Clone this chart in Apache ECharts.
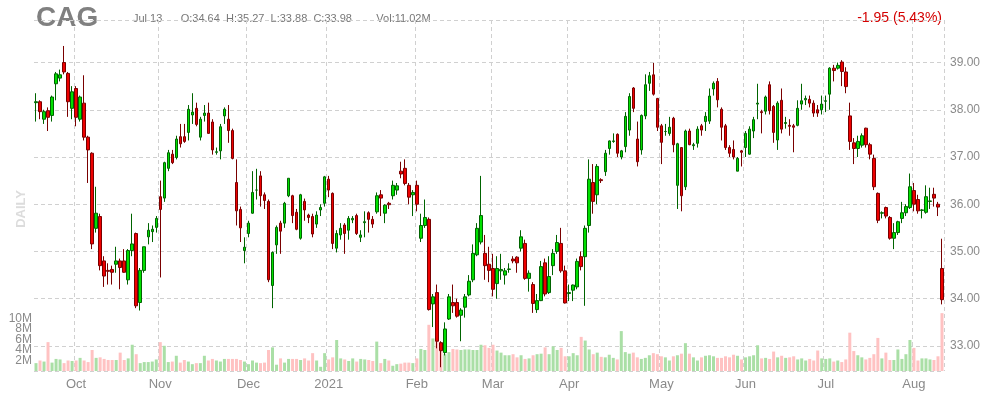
<!DOCTYPE html>
<html><head><meta charset="utf-8">
<script src="https://cdn.jsdelivr.net/npm/echarts@6/dist/echarts.min.js"></script>
<style>html,body{margin:0;padding:0;background:#fff}#c{width:990px;height:400px}</style>
</head><body><div id="c"></div>
<script>
// [open, close, low, high]
const ohlc = [
[38.15,38.17,37.75,38.35],[38.17,37.96,37.8,38.2],[37.8,37.96,37.7,38.0],[37.98,37.84,37.55,38.05],[37.88,38.27,37.75,38.3],
[38.55,38.76,38.2,38.8],[38.67,38.74,38.6,38.85],[39.0,38.8,38.75,39.35],[38.77,38.17,37.85,38.8],[38.03,38.38,37.8,38.5],
[38.45,37.84,37.65,38.5],[37.8,38.27,37.75,38.3],[38.14,37.42,37.35,38.73],[37.42,37.15,36.45,37.45],[37.08,35.16,35.05,37.1],
[35.49,35.81,35.4,36.37],[35.74,34.7,34.6,35.8],[34.8,34.48,34.25,34.9],[34.6,34.58,34.3,34.75],[34.62,34.56,34.3,34.7],
[34.73,34.8,34.55,35.1],[34.8,34.66,34.2,34.85],[34.8,34.56,34.55,35.05],[34.4,35.02,34.3,35.05],[35.02,35.16,34.9,35.8],
[35.38,33.85,33.8,35.4],[33.92,34.6,33.75,34.65],[34.6,35.1,34.55,35.1],[35.31,35.45,35.15,35.6],[35.42,35.47,35.2,35.55],
[35.51,35.7,35.4,35.75],[36.16,35.89,34.45,36.5],[36.13,36.88,36.05,36.9],[36.76,37.09,36.7,37.15],[37.06,36.88,36.85,37.15],
[36.99,37.38,36.95,37.45],[37.43,37.28,37.2,37.7],[37.43,37.33,37.3,37.7],[37.52,38.01,37.35,38.1],[37.89,37.95,37.7,38.35],
[38.03,37.69,37.65,38.15],[37.42,37.8,37.35,37.85],[37.88,37.93,37.75,38.1],[37.93,37.5,37.5,38.15],[37.74,37.15,37.05,37.8],
[37.1,37.11,37.05,37.2],[37.13,37.64,36.95,37.7],[37.87,38.01,37.7,38.05],[37.8,37.56,37.3,38.1],[37.56,36.97,36.95,37.6],
[36.46,35.86,35.55,36.95],[35.89,35.5,35.2,35.95],[35.02,35.09,34.75,35.3],[35.38,35.6,35.3,35.65],[35.81,36.25,35.8,36.7],
[36.3,36.3,36.1,36.75],[36.6,36.18,35.95,36.7],[36.2,36.08,35.9,36.25],[36.06,34.4,34.35,36.1],[34.28,34.98,33.8,35.0],
[35.14,35.51,34.95,35.55],[35.6,35.43,34.95,35.65],[35.6,36.02,35.5,36.05],[36.18,36.55,36.15,36.55],[36.18,35.76,35.6,36.2],
[35.83,35.47,35.45,35.9],[35.28,36.2,35.25,36.22],[36.06,35.88,35.65,36.12],[35.77,35.72,35.6,35.8],[35.74,35.37,35.3,35.8],
[35.58,35.77,35.5,35.85],[35.88,35.93,35.75,36.0],[36.02,36.58,35.95,36.6],[36.53,36.3,36.15,36.6],[36.23,35.17,35.05,36.25],
[35.07,35.38,34.98,35.45],[35.35,35.49,35.25,35.6],[35.56,35.38,34.95,35.6],[35.45,35.7,35.25,35.75],[35.67,35.7,35.6,35.75],
[35.76,35.38,35.35,35.8],[35.3,35.35,35.2,35.45],[35.61,35.63,35.3,35.85],[35.82,35.68,35.4,35.85],[35.68,35.58,35.5,35.75],
[35.84,36.18,35.8,36.25],[36.2,36.13,35.75,36.3],[35.81,35.98,35.6,36.0],[36.02,35.99,35.9,36.05],[36.18,36.4,36.1,36.5],
[36.3,36.39,36.2,36.45],[36.7,36.64,36.55,36.9],[36.76,36.44,36.4,36.95],[36.4,36.15,36.0,36.45],[36.2,36.25,35.75,36.3],
[36.4,36.0,35.85,36.5],[35.28,35.55,35.2,35.8],[35.55,35.72,35.5,36.1],[35.68,33.77,33.75,35.72],[33.89,34.04,33.4,34.1],
[34.13,33.1,32.95,34.3],[33.07,32.9,32.55,33.1],[32.86,33.36,32.8,33.5],[33.57,34.04,33.55,34.1],[33.92,33.85,33.7,34.3],
[33.92,33.63,33.6,34.0],[33.65,33.76,33.1,33.8],[33.82,34.04,33.6,34.1],[34.08,34.37,34.05,34.5],[34.4,34.96,34.35,35.15],
[34.93,35.49,34.9,35.6],[35.2,35.76,35.15,36.6],[34.96,34.7,34.4,35.35],[34.73,34.6,34.35,35.1],[34.64,34.2,34.05,34.95],
[34.32,34.64,34.0,34.9],[34.59,34.62,34.4,34.95],[34.5,34.59,34.3,34.65],[34.62,34.63,34.55,34.75],[34.84,34.8,34.75,34.9],
[34.88,34.76,34.55,34.9],[35.07,35.31,35.0,35.45],[35.17,34.43,34.4,35.25],[34.43,34.54,34.15,34.6],[34.3,33.9,33.7,34.35],
[33.77,33.96,33.7,34.1],[33.96,34.68,33.95,34.8],[34.76,34.1,34.05,34.85],[34.13,34.47,34.1,34.9],[34.7,34.96,34.5,35.05],
[35.0,35.19,34.95,35.35],[35.17,34.59,34.55,35.5],[34.59,33.91,33.9,34.7],[34.11,34.13,33.95,34.3],[34.18,34.29,33.95,34.3],
[34.25,34.79,34.2,34.85],[34.89,34.68,34.6,35.0],[34.89,35.49,33.85,35.55],[35.55,36.53,35.4,36.95],[36.46,36.06,35.8,36.85],
[36.2,36.8,36.0,36.85],[36.52,36.5,36.45,36.55],[36.69,37.08,36.6,37.15],[37.18,37.34,37.05,37.35],[37.33,37.34,37.3,37.5],
[37.48,37.08,37.0,37.5],[37.0,37.13,36.95,37.15],[37.22,37.86,37.1,37.95],[37.57,38.28,37.45,38.35],[38.46,38.03,37.95,38.48],
[37.38,36.9,36.8,37.75],[37.15,37.88,37.05,37.9],[37.87,38.53,37.8,38.75],[38.56,38.72,38.4,38.8],[38.74,38.33,38.3,38.99],
[38.24,37.63,37.55,38.25],[37.66,37.31,36.85,37.7],[37.54,37.54,37.45,37.7],[37.5,37.63,37.45,37.85],[37.82,37.26,37.1,37.85],
[36.4,37.28,35.9,37.3],[37.2,36.18,35.85,37.2],[36.37,37.55,36.3,37.58],[37.55,37.26,37.25,37.6],[37.24,37.26,37.15,37.3],
[37.29,37.59,37.2,37.65],[37.66,37.57,37.45,37.7],[37.75,37.86,37.55,37.95],[37.76,38.29,37.7,38.45],[38.44,38.56,38.3,38.6],
[38.6,38.21,38.05,38.67],[38.01,37.63,37.35,38.05],[37.66,37.2,37.15,37.7],[37.2,37.08,37.0,37.25],[37.16,37.0,36.95,37.35],
[36.7,36.97,36.7,37.0],[37.13,37.1,36.8,37.15],[37.2,37.5,37.0,37.55],[37.06,37.59,37.05,37.65],[37.55,37.79,37.4,37.85],
[38.12,38.14,37.8,38.55],[37.96,37.94,37.5,38.0],[37.97,38.27,37.9,38.3],[38.53,37.98,37.9,38.6],[38.07,37.52,37.3,38.1],
[37.36,38.14,37.15,38.18],[38.2,37.59,37.5,38.45],[37.71,37.73,37.6,37.85],[37.67,37.65,37.45,37.8],[37.66,37.63,37.1,37.7],
[37.67,38.03,37.65,38.2],[38.12,38.19,38.0,38.55],[38.21,38.24,38.1,38.3],[38.22,38.14,38.05,38.3],[38.14,37.93,37.85,38.2],
[38.0,37.93,37.85,38.1],[38.0,38.12,37.9,38.3],[38.18,38.19,37.95,38.3],[38.33,38.88,38.0,38.9],[38.88,38.83,38.6,38.95],
[38.88,38.94,38.85,39.0],[39.01,38.81,38.5,39.05],[38.8,38.49,38.35,38.9],[37.87,37.33,37.15,38.15],[37.3,37.18,36.85,37.4],
[37.18,37.33,37.0,37.45],[37.25,37.45,37.2,37.5],[37.61,37.26,37.2,37.62],[37.26,37.06,36.95,37.3],[36.97,36.37,36.3,37.05],
[36.23,35.66,35.6,36.25],[35.81,35.82,35.7,35.85],[35.93,35.75,35.7,35.95],[35.72,35.28,35.25,35.75],[35.28,35.4,35.05,35.6],
[35.4,35.63,35.35,35.65],[35.7,35.82,35.6,36.05],[35.82,35.95,35.75,36.0],[35.93,36.37,35.9,36.65],[36.29,36.0,35.85,36.45],
[36.1,35.86,35.8,36.2],[35.87,35.88,35.7,35.9],[35.83,36.16,35.8,36.4],[36.06,36.07,35.9,36.35],[36.21,36.13,35.95,36.35],
[36.0,35.94,35.75,36.05],[34.64,33.98,33.88,35.27]
];
const volumeM = [
1.5,2.0,1.8,5.5,1.6,2.3,2.2,1.5,2.0,1.9, 2.0,2.5,2.0,1.7,4.0,2.5,2.6,2.3,2.1,2.1,
2.1,3.5,2.1,2.4,5.0,3.2,1.5,1.7,1.7,1.8, 2.2,5.5,4.8,1.7,1.8,2.9,1.6,2.1,1.8,1.3,
1.5,1.5,2.9,2.0,2.3,2.0,1.8,2.3,2.3,2.3, 2.3,2.1,1.8,1.3,2.0,1.6,1.5,1.6,4.0,4.5,
1.2,2.4,1.6,2.3,2.3,2.3,2.1,2.4,2.0,3.4, 2.0,0.8,3.4,2.2,2.6,5.9,2.4,2.2,1.9,2.4,
1.8,2.3,2.2,2.1,1.9,5.6,1.5,2.3,2.0,1.0, 1.3,1.4,1.6,1.6,1.5,2.4,4.2,4.0,8.8,6.2,
5.6,4.0,3.2,3.6,4.2,4.1,4.0,4.1,4.1,4.0, 4.0,5.0,4.9,4.4,5.0,3.9,3.5,3.0,3.0,3.2,
2.6,3.0,2.3,2.4,3.0,3.2,3.3,4.5,3.2,4.7, 4.0,4.4,2.8,2.8,3.4,3.0,6.5,5.8,4.1,3.2,
3.5,2.7,2.6,3.1,2.5,2.2,7.6,3.6,3.3,3.5, 2.6,2.3,2.5,3.0,3.4,3.2,2.8,2.6,2.0,2.8,
3.0,3.3,5.3,3.3,2.6,2.0,2.6,2.9,3.0,2.8, 2.5,2.5,2.8,2.6,3.1,2.9,2.2,2.6,2.8,3.0,
4.9,2.4,2.5,2.3,3.7,2.6,2.9,2.5,2.6,2.8, 2.2,2.4,2.0,2.3,2.0,3.9,2.4,2.3,2.4,1.8,
2.0,1.7,2.2,7.3,3.8,3.0,2.6,2.2,2.5,3.2, 6.3,2.4,3.5,2.1,2.1,4.1,2.3,3.2,5.9,4.4,
2.0,2.4,2.4,2.2,2.1,2.8,11.02
];
const holidays = ['2021-07-05','2021-05-31','2021-04-02','2021-02-15','2021-01-18','2021-01-01','2020-12-25','2020-11-26','2020-09-07'];
const monthNames = ['2021','Feb','Mar','Apr','May','Jun','Jul','Aug','Sep','Oct','Nov','Dec'];

// trading-day categories, counted back from the last session
const dates = [];
{
  let d = new Date(Date.UTC(2021,6,13));
  while (dates.length < ohlc.length) {
    const s = d.toISOString().slice(0,10), wd = d.getUTCDay();
    if (wd !== 0 && wd !== 6 && holidays.indexOf(s) < 0) dates.unshift(s);
    d = new Date(d.getTime() - 86400000);
  }
}
const isMonthStart = i => i > 0 && dates[i].slice(5,7) !== dates[i-1].slice(5,7);

const candle = ohlc.map(r => [r[0], r[1], r[2], r[3]]);
const vol = volumeM.map((v, i) => ({
  value: v * 1e6,
  itemStyle: { color: ohlc[i][1] >= ohlc[i][0] ? '#aadfa6' : '#ffc2c2' }
}));

const chart = echarts.init(document.getElementById('c'));
const gray = '#8a8a8a';
chart.setOption({
  animation: false,
  backgroundColor: '#fff',
  textStyle: { fontFamily: 'Liberation Sans, Arial, sans-serif' },
  graphic: [
    { type: 'text', left: 36, top: 4, style: { text: 'CAG', font: 'bold 28px Liberation Sans, Arial', fill: '#808080' } },
    { type: 'text', left: 133, top: 13, style: { text: 'Jul 13      O:34.64  H:35.27  L:33.88  C:33.98        Vol:11.02M', font: '11px Liberation Sans, Arial', fill: '#777' } },
    { type: 'text', right: 48, top: 11, style: { text: '-1.95 (5.43%)', font: '14px Liberation Sans, Arial', fill: '#d40000', align: 'right' } },
    { type: 'text', left: 15, top: 190, rotation: Math.PI / 2, style: { text: 'DAILY', font: 'bold 13px Liberation Sans, Arial', fill: '#dcdcdc' } }
  ],
  grid: [
    { left: 34, right: 46, top: 20, bottom: 29 },
    { left: 34, right: 46, top: 308, bottom: 29 }
  ],
  xAxis: [
    { type: 'category', gridIndex: 0, data: dates, boundaryGap: true,
      axisLine: { show: false }, axisTick: { show: false }, axisLabel: { show: false },
      splitLine: { show: true, interval: (i) => isMonthStart(i), lineStyle: { color: '#d0d0d0', type: [4, 3] } } },
    { type: 'category', gridIndex: 1, data: dates, boundaryGap: true,
      axisLine: { show: false }, axisTick: { show: false },
      axisLabel: { interval: (i) => isMonthStart(i), color: gray, fontSize: 13, margin: 7,
        formatter: (v) => monthNames[(+v.slice(5,7)) % 12] },
      splitLine: { show: false } }
  ],
  yAxis: [
    { type: 'value', gridIndex: 0, position: 'right', min: 32.47, max: 39.9, splitNumber: 7,
      axisLine: { show: false }, axisTick: { show: false },
      axisLabel: { color: gray, fontSize: 12, margin: 6, formatter: v => v.toFixed(2), showMinLabel: false, showMaxLabel: false },
      splitLine: { lineStyle: { color: '#d0d0d0', type: [4, 3] } } },
    { type: 'value', gridIndex: 1, position: 'left', min: 0, max: 12e6, interval: 2e6,
      axisLine: { show: false }, axisTick: { show: false },
      axisLabel: { color: gray, fontSize: 12, margin: 2, showMinLabel: false, formatter: v => (v / 1e6) + 'M' },
      splitLine: { show: false } }
  ],
  series: [
    { type: 'bar', xAxisIndex: 1, yAxisIndex: 1, data: vol, barWidth: 3, barCategoryGap: 0, z: 1 },
    { type: 'candlestick', xAxisIndex: 0, yAxisIndex: 0, data: candle, barWidth: 3, z: 3,
      itemStyle: { color: '#00e000', color0: '#ee0000', borderColor: '#006400', borderColor0: '#7a0000', borderWidth: 1 },
      markLine: { symbol: 'none', silent: true, data: [{ yAxis: 33.98 }],
        lineStyle: { opacity: 0 },
        label: { position: 'end', formatter: '33.98', color: '#777', backgroundColor: '#ffff33', padding: [2, 3], fontSize: 12, distance: 4 } } }
  ]
});
</script></body></html>
